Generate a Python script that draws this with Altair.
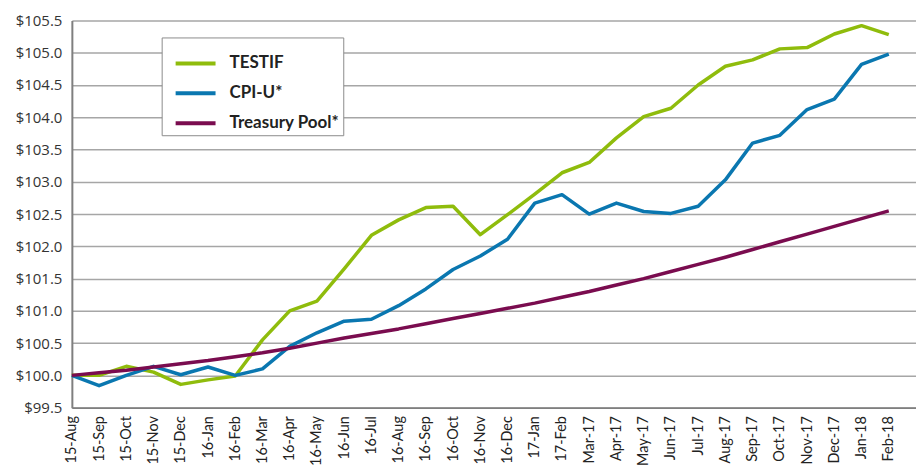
import json
import altair as alt
import pandas as pd

months = ["15-Aug", "15-Sep", "15-Oct", "15-Nov", "15-Dec", "16-Jan", "16-Feb", "16-Mar",
          "16-Apr", "16-May", "16-Jun", "16-Jul", "16-Aug", "16-Sep", "16-Oct", "16-Nov",
          "16-Dec", "17-Jan", "17-Feb", "Mar-17", "Apr-17", "May-17", "Jun-17", "Jul-17",
          "Aug-17", "Sep-17", "Oct-17", "Nov-17", "Dec-17", "Jan-18", "Feb-18"]

testif = [100.00, 100.00, 100.14, 100.05, 99.86, 99.93, 99.99, 100.55, 101.00, 101.15,
          101.65, 102.17, 102.41, 102.60, 102.62, 102.18, 102.49, 102.81, 103.14, 103.30,
          103.68, 104.01, 104.14, 104.50, 104.79, 104.89, 105.06, 105.08, 105.29, 105.42, 105.28]

cpiu = [100.00, 99.84, 100.00, 100.14, 100.01, 100.13, 100.00, 100.10, 100.45, 100.66,
        100.84, 100.87, 101.08, 101.34, 101.64, 101.85, 102.11, 102.67, 102.80, 102.50,
        102.67, 102.54, 102.51, 102.62, 103.03, 103.60, 103.72, 104.12, 104.28, 104.82, 104.98]

treasury = [100.00, 100.04, 100.08, 100.13, 100.18, 100.23, 100.29, 100.35, 100.42, 100.50,
            100.58, 100.65, 100.72, 100.80, 100.88, 100.96, 101.04, 101.12, 101.21, 101.30,
            101.40, 101.50, 101.61, 101.72, 101.83, 101.95, 102.07, 102.19, 102.31, 102.43, 102.55]

series_names = ["TESTIF", "CPI-U*", "Treasury Pool*"]
series_colors = ["#8fbc0c", "#0a77b0", "#7a0c4f"]

rows = []
for name, vals in zip(series_names, [testif, cpiu, treasury]):
    for i, v in enumerate(vals):
        rows.append({"idx": i, "month": months[i], "value": v, "series": name})
df = pd.DataFrame(rows)

y_ticks = [99.5 + 0.5 * k for k in range(13)]

chart = alt.Chart(df).mark_line(strokeWidth=3.5, strokeJoin="round").encode(
    x=alt.X("idx:Q",
            scale=alt.Scale(domain=[0, 31], nice=False, zero=False),
            axis=alt.Axis(values=list(range(len(months))),
                          labelExpr=json.dumps(months) + "[datum.value]",
                          labelAngle=270, labelAlign="right", labelBaseline="middle",
                          labelFont="Lato", labelFontSize=14.5, labelColor="#222",
                          labelPadding=8, ticks=False, grid=False, title=None,
                          domainColor="#7f7f7f", domainWidth=2, labelOverlap=False)),
    y=alt.Y("value:Q",
            scale=alt.Scale(domain=[99.5, 105.5], nice=False, zero=False),
            axis=alt.Axis(values=y_ticks,
                          labelExpr="'$' + format(datum.value, '.1f')",
                          labelFont="Open Sans", labelFontSize=15, labelColor="#333",
                          labelPadding=10, ticks=False, title=None,
                          gridColor="#a6a6a6", gridWidth=1.5,
                          domainColor="#7f7f7f", domainWidth=2)),
    color=alt.Color("series:N",
                    scale=alt.Scale(domain=series_names, range=series_colors),
                    legend=alt.Legend(title=None, orient="none", legendX=90, legendY=17,
                                      symbolType="stroke", symbolSize=1600,
                                      symbolStrokeWidth=4, symbolOffset=8,
                                      labelFont="Lato",
                                      labelFontSize=17, labelFontWeight="bold",
                                      labelColor="#222", labelOffset=12,
                                      strokeColor="#8c8c8c", fillColor="white",
                                      padding=4, rowPadding=-14)),
    order="idx:Q",
).properties(
    width=846, height=388,
    autosize=alt.AutoSizeParams(type="none"),
    padding={"left": 64, "top": 12, "right": 0, "bottom": 60},
).configure_view(stroke=None)

chart.save("out.html", embed_options={"renderer": "svg", "actions": False})
